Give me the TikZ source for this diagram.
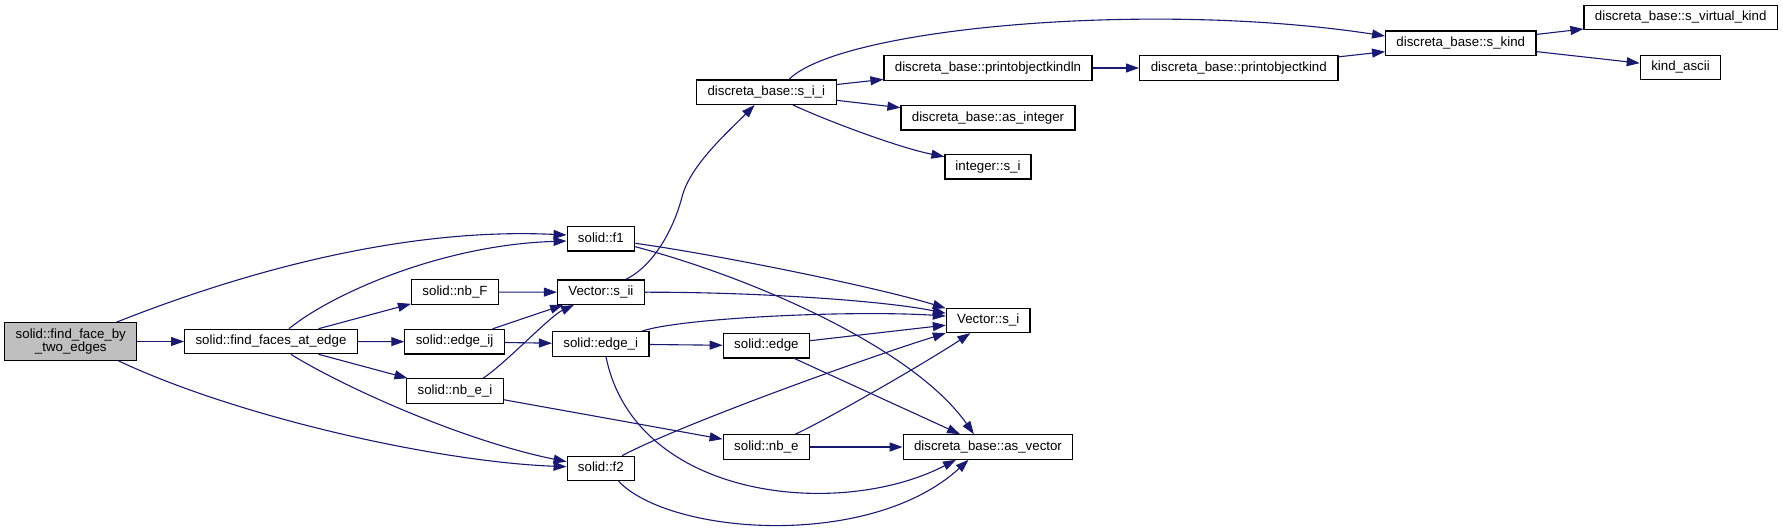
\documentclass[tikz,border=0pt]{standalone}
\usepackage{fontspec}
\setmainfont{Liberation Sans}
\usetikzlibrary{arrows.meta,calc}
\definecolor{edgeblue}{HTML}{191970}
\definecolor{rootgray}{HTML}{BFBFBF}
\begin{document}
\begin{tikzpicture}[x=1pt,y=-1pt,
  base/.style={draw=black, line width=1.2pt, fill=white, minimum height=24.4pt, inner sep=0pt, font=\fontsize{13.3}{13.5}\selectfont},
  box/.style={base, text height=9.5pt, text depth=3pt},
  conn/.style={draw=edgeblue, line width=1.1pt, -{Triangle[length=13pt,width=9pt]}}]
\useasboundingbox (0,0) rectangle (1783,532);
% nodes
\node[base, fill=rootgray, minimum width=132pt, minimum height=37.6pt, align=center] (ff) at (70.8,341.5) {solid::find\_face\_by\\\_two\_edges};
\node[box, minimum width=172.6pt] (fae) at (271,341.5) {solid::find\_faces\_at\_edge};
\node[box, minimum width=87pt] (nbF) at (455,292) {solid::nb\_F};
\node[box, minimum width=99.5pt] (eij) at (454.6,341.7) {solid::edge\_ij};
\node[box, minimum width=96.5pt] (nbei) at (455,391) {solid::nb\_e\_i};
\node[box, minimum width=67.5pt] (f1) at (600.9,238.8) {solid::f1};
\node[box, minimum width=86.8pt] (sii) at (600.9,292.2) {Vector::s\_ii};
\node[box, minimum width=96.4pt] (ei) at (600.7,344) {solid::edge\_i};
\node[box, minimum width=67.5pt] (f2) at (600.9,468.5) {solid::f2};
\node[box, minimum width=86.4pt] (sedge) at (766.4,345.7) {solid::edge};
\node[box, minimum width=86.4pt] (nbe) at (766.4,447) {solid::nb\_e};
\node[box, minimum width=83.6pt] (vsi) at (988.2,320.3) {Vector::s\_i};
\node[box, minimum width=169.6pt] (asv) at (988,447) {discreta\_base::as\_vector};
\node[box, minimum width=139.6pt] (dsii) at (766.3,92.2) {discreta\_base::s\_i\_i};
\node[box, minimum width=208pt] (pokln) at (988,68) {discreta\_base::printobjectkindln};
\node[box, minimum width=174pt] (asint) at (988,117.8) {discreta\_base::as\_integer};
\node[box, minimum width=86pt] (isi) at (988,166.8) {integer::s\_i};
\node[box, minimum width=198.4pt] (pok) at (1238.8,68) {discreta\_base::printobjectkind};
\node[box, minimum width=150.3pt] (skind) at (1460.8,43.2) {discreta\_base::s\_kind};
\node[box, minimum width=193.3pt] (svk) at (1680.7,17.7) {discreta\_base::s\_virtual\_kind};
\node[box, minimum width=80.4pt] (ka) at (1680.5,67.7) {kind\_ascii};
% straight connectors
\draw[conn] (ff) -- (fae);
\draw[conn] (fae) -- (nbF);
\draw[conn] (fae) -- (eij);
\draw[conn] (fae) -- (nbei);
\draw[conn] (nbF) -- (sii);
\draw[conn] (eij) -- (sii);
\draw[conn] (eij) -- (ei);
\draw[conn] (nbei) -- (nbe);
\draw[conn] (ei) -- (sedge);
\draw[conn] (sedge) -- (vsi);
\draw[conn] (sedge) -- (asv);
\draw[conn] (nbe) -- (asv);
\draw[conn] (dsii) -- (pokln);
\draw[conn] (dsii) -- (asint);
\draw[conn] (pokln) -- (pok);
\draw[conn] (pok) -- (skind);
\draw[conn] (skind) -- (svk);
\draw[conn] (skind) -- (ka);
% curved connectors
\draw[conn] ($(ff.north)+(45.9,0)$) .. controls (266.7,262.7) and (420,228) .. ($(f1.west)+(0,-3.8)$);
\draw[conn] ($(fae.north)+(18,0)$) .. controls (330,295) and (440,245) .. ($(f1.west)+(0,2.2)$);
\draw[conn] ($(ff.south)+(47.8,0)$) .. controls (240,418) and (440,462) .. ($(f2.west)+(0,-1.8)$);
\draw[conn] ($(fae.south)+(19.9,0)$) .. controls (340,385) and (460,440) .. ($(f2.west)+(0,-6.8)$);
\draw[conn] ($(nbei.north)+(28,0)$) .. controls (505,364) and (550,316) .. ($(sii.south)+(-26.9,0)$);
\draw[conn] ($(sii.north)+(24.8,0)$) .. controls (650,268) and (672,235) .. (682,197) .. controls (690,165) and (730,130) .. ($(dsii.south)+(-11.7,0)$);
\draw[conn] ($(dsii.north)+(22.7,0)$) .. controls (840,28) and (1150,0) .. ($(skind.west)+(0,-7.2)$);
\draw[conn] ($(dsii.south)+(26.6,0)$) .. controls (830,122) and (900,148) .. ($(isi.west)+(0,-10.1)$);
\draw[conn] ($(f1.east)+(0,4.5)$) .. controls (720,255) and (880,288) .. ($(vsi.west)+(0,-12)$);
\draw[conn] ($(f1.east)+(0,7.9)$) .. controls (760,280) and (915,350) .. ($(asv.north)+(-14.1,0)$);
\draw[conn] (sii.east) .. controls (750,292) and (880,300) .. ($(vsi.west)+(0,-7)$);
\draw[conn] ($(ei.north)+(41.1,0)$) .. controls (680,318) and (850,310) .. ($(vsi.west)+(0,-4.3)$);
\draw[conn] ($(ei.south)+(5.3,0)$) .. controls (635,500) and (840,520) .. ($(asv.south)+(-32,0)$);
\draw[conn] ($(nbe.north)+(29,0)$) .. controls (830,418) and (930,360) .. ($(vsi.south)+(-17.8,0)$);
\draw[conn] ($(f2.north)+(21.1,0)$) .. controls (680,425) and (860,360) .. (vsi.south west);
\draw[conn] ($(f2.south)+(17.7,0)$) .. controls (670,535) and (870,550) .. ($(asv.south)+(-19.4,0)$);
\end{tikzpicture}
\end{document}
